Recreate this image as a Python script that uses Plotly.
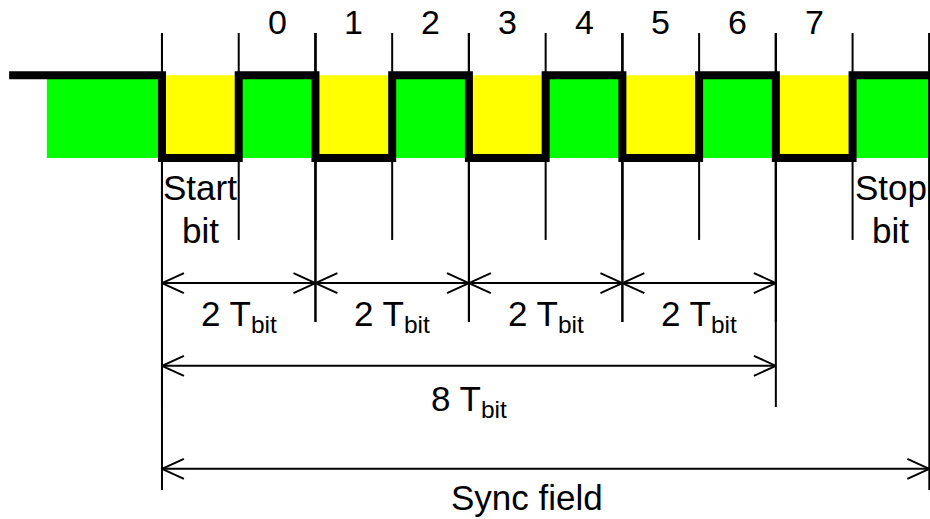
import plotly.graph_objects as go

# ---------------- data ----------------
bit_labels = ["0", "1", "2", "3", "4", "5", "6", "7"]
# start bit, data bits 0..7 (0x55, LSB first), stop bit
frame_levels = [0, 1, 0, 1, 0, 1, 0, 1, 0, 1]
idle_level = 1
start_text = ["Start", "bit"]
stop_text = ["Stop", "bit"]
two_bit_spans = [(0, 2), (2, 4), (4, 6), (6, 8)]
two_bit_label = "2 T<sub>bit</sub>"
eight_bit_span = (0, 8)
eight_bit_label = "8 T<sub>bit</sub>"
sync_span = (0, 10)
sync_label = "Sync field"

# ---------------- style / layout constants ----------------
X_RANGE = [-2.111, 10.009]
Y_RANGE = [-4.365, 1.9105]
IDLE_LINE_START = -1.992
BAND_START = -1.5
TICK_TOP = 1.511
SHORT_BOTTOM = -0.991
ROW1_Y, ROW1_BOTTOM = -1.512, -1.983
ROW2_Y, ROW2_BOTTOM = -2.513, -3.010
ROW3_Y, ROW3_BOTTOM = -3.758, -4.014
HEAD_DX, HEAD_DY = 0.286, 0.121
GREEN, YELLOW = "#00FF00", "#FFFF00"
FONT = "Arial, 'Liberation Sans', sans-serif"
TEXT_SHIFT = 3

fig = go.Figure()

# colored band behind the signal
shapes = []
seg_x = [BAND_START] + list(range(len(frame_levels) + 1))
seg_lv = [idle_level] + frame_levels
for i, lv in enumerate(seg_lv):
    shapes.append(dict(type="rect", xref="x", yref="y", x0=seg_x[i], x1=seg_x[i + 1],
                       y0=0, y1=1, fillcolor=GREEN if lv == 1 else YELLOW,
                       line=dict(width=0), layer="below"))

# thin construction lines and dimension arrows
lx, ly = [], []


def vline(x, y0, y1):
    lx.extend([x, x, None])
    ly.extend([y0, y1, None])


n_bounds = len(frame_levels) + 1
for b in range(n_bounds):
    vline(b, TICK_TOP, SHORT_BOTTOM)


def dim(a, b, y, bottom):
    vline(a, TICK_TOP, bottom)
    vline(b, TICK_TOP, bottom)
    lx.extend([a, b, None])
    ly.extend([y, y, None])
    lx.extend([a + HEAD_DX, a, a + HEAD_DX, None])
    ly.extend([y + HEAD_DY, y, y - HEAD_DY, None])
    lx.extend([b - HEAD_DX, b, b - HEAD_DX, None])
    ly.extend([y + HEAD_DY, y, y - HEAD_DY, None])


for a, b in two_bit_spans:
    dim(a, b, ROW1_Y, ROW1_BOTTOM)
dim(eight_bit_span[0], eight_bit_span[1], ROW2_Y, ROW2_BOTTOM)
dim(sync_span[0], sync_span[1], ROW3_Y, ROW3_BOTTOM)

fig.add_trace(go.Scatter(x=lx, y=ly, mode="lines", line=dict(color="black", width=2),
                         hoverinfo="skip", showlegend=False))

# thick signal
sig_x = [IDLE_LINE_START] + list(range(n_bounds))
sig_y = [idle_level] + frame_levels + [frame_levels[-1]]
fig.add_trace(go.Scatter(x=sig_x, y=sig_y, mode="lines", line=dict(color="black", width=8, shape="hv"),
                         hoverinfo="skip", showlegend=False))

ann = []
for i, lab in enumerate(bit_labels):
    ann.append(dict(x=i + 1.5, y=1.612, text=lab, font=dict(size=34)))
for x, txt in [(0.5, start_text), (len(frame_levels) - 0.5, stop_text)]:
    ann.append(dict(x=x, y=-0.393, text=txt[0]))
    ann.append(dict(x=x, y=-0.907, text=txt[1]))
for a, b in two_bit_spans:
    ann.append(dict(x=(a + b) / 2, y=-1.947, text=two_bit_label))
ann.append(dict(x=sum(eight_bit_span) / 2, y=-2.975, text=eight_bit_label))
ann.append(dict(x=sum(sync_span) / 2, y=-4.141, text=sync_label, xshift=-19))
for a in ann:
    a.update(xref="x", yref="y", showarrow=False, xanchor="center", yanchor="middle",
             yshift=TEXT_SHIFT)
    a.setdefault("font", dict(size=35))
    a["font"]["color"] = "black"
    a["font"]["family"] = FONT

fig.update_layout(
    width=930, height=519, margin=dict(l=0, r=0, t=0, b=0),
    paper_bgcolor="white", plot_bgcolor="white",
    xaxis=dict(range=X_RANGE, visible=False, fixedrange=True),
    yaxis=dict(range=Y_RANGE, visible=False, fixedrange=True),
    shapes=shapes, annotations=ann, showlegend=False,
)
fig.write_html(
    "out.html", config={"displayModeBar": False},
    post_script=(
        "document.body.style.margin='0';document.body.style.overflow='hidden';"
        "document.querySelectorAll('.js-line').forEach(function(p){"
        "p.style.strokeLinejoin='miter';p.style.strokeLinecap='butt';});"
    ),
)
